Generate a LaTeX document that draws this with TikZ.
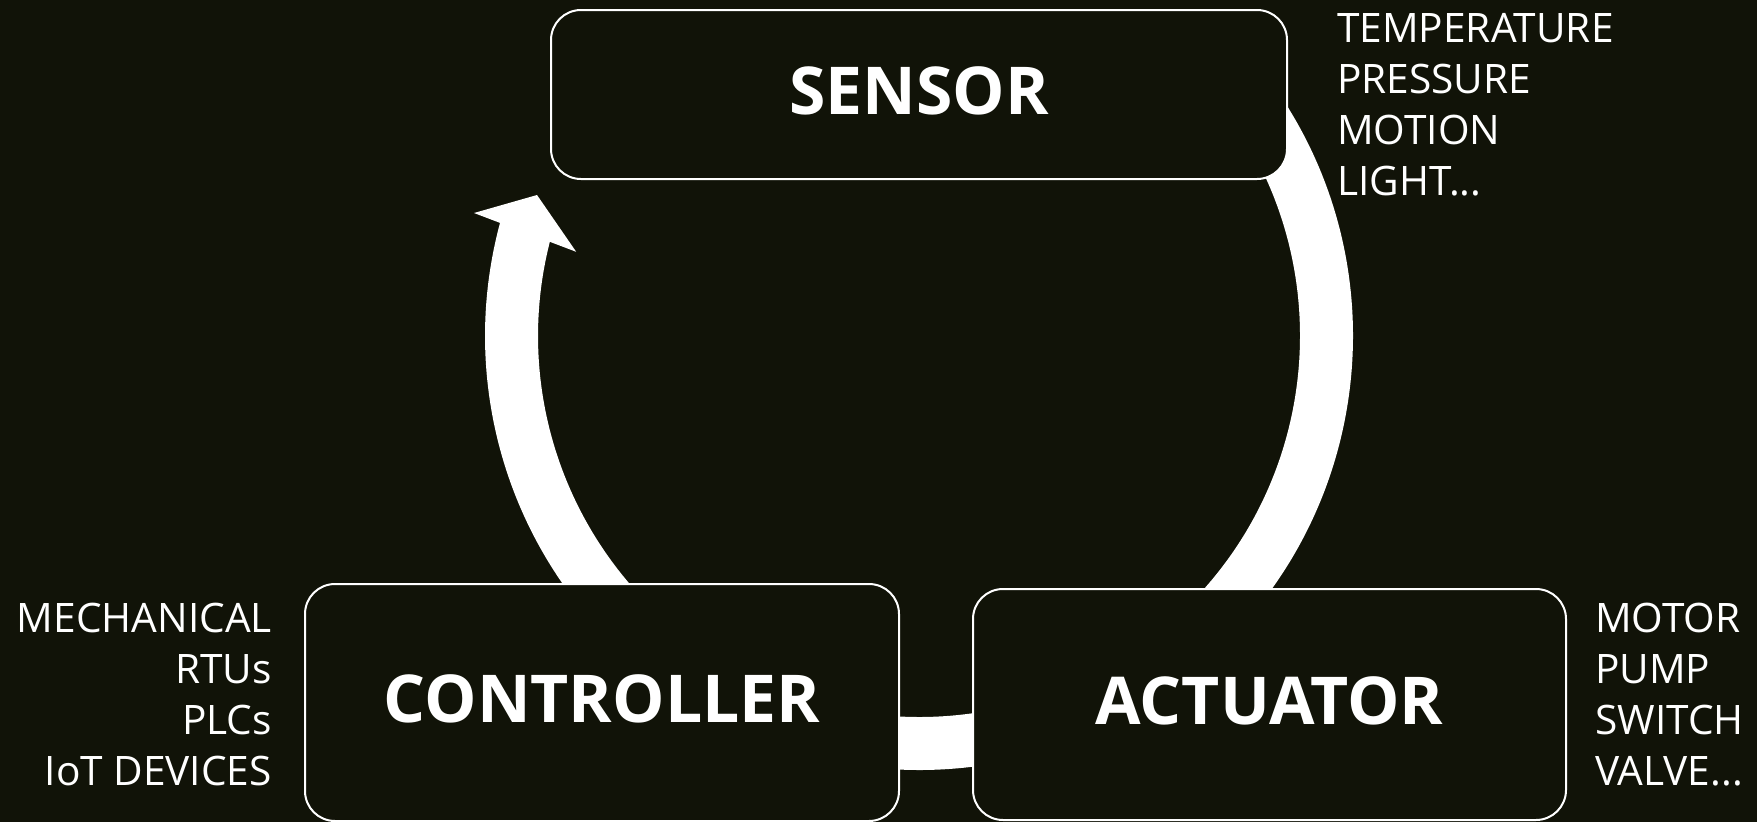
\documentclass[tikz,border=0pt]{standalone}
\usepackage{fontspec}
\setmainfont{Open Sans}
\definecolor{bg}{RGB}{17,19,8}
\begin{document}
\begin{tikzpicture}[x=1pt,y=-1pt,
  box/.style={draw=white, line width=2pt, fill=bg, rounded corners=30pt, inner sep=0pt,
    text=white, font=\bfseries\fontsize{66}{66}\selectfont, text depth=8pt},
  side/.style={text=white, inner sep=0pt, font=\fontsize{40.6}{51}\selectfont},
  flow/.style={white, line width=53pt}]
\useasboundingbox (0,0) rectangle (1757,822);
\fill[bg] (0,0) rectangle (1757,822);
% cycle arc
\coordinate (c) at (919,336);
\coordinate (arcstart) at ([shift={(c)}]-40:407.5);
\draw[flow] (arcstart) arc[start angle=-40, end angle=195.5, radius=407.5];
\coordinate (tip) at ([shift={(c)}]200.26:407.2);
\coordinate (barbout) at ([shift={(c)}]195.45:461.7);
\coordinate (barbin) at ([shift={(c)}]193.8:353);
\fill[white] (barbout) -- (tip) -- (barbin) -- cycle;
% boxes
\node[box, minimum width=736pt, minimum height=169pt] (sensor) at (919,94.5) {SENSOR};
\node[box, minimum width=594pt, minimum height=237pt] (controller) at (602,702.5) {CONTROLLER};
\node[box, minimum width=593pt, minimum height=231pt] (actuator) at (1269.5,704.5) {ACTUATOR};
% side lists
\node[side, anchor=north west, align=left] (slist) at (1337,13) {TEMPERATURE\\PRESSURE\\MOTION\\LIGHT...};
\node[side, anchor=north east, align=right] (clist) at (272,603) {MECHANICAL\\RTUs\\PLCs\\IoT DEVICES};
\node[side, anchor=north west, align=left] (alist) at (1595,603) {MOTOR\\PUMP\\SWITCH\\VALVE...};
\end{tikzpicture}
\end{document}
